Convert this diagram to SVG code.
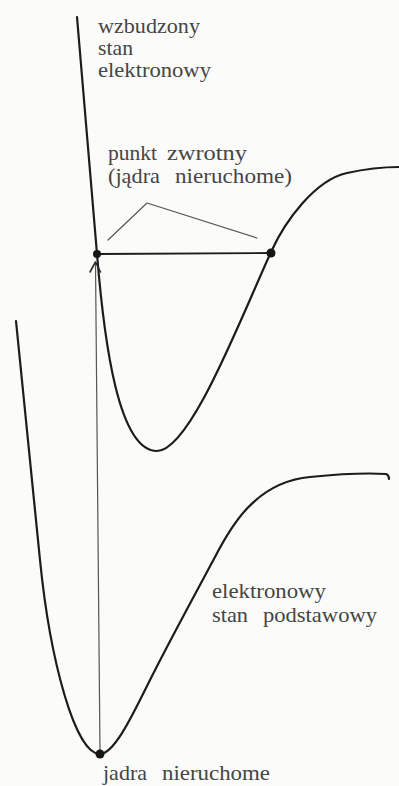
<svg xmlns="http://www.w3.org/2000/svg" width="399" height="786" viewBox="0 0 399 786">
<style>
.curve{fill:none;stroke:#1c1c1c;stroke-width:2.2;stroke-linecap:round;stroke-linejoin:round}
.thin{fill:none;stroke:#555;stroke-width:1.2;stroke-linecap:round;stroke-linejoin:round}
.head{fill:none;stroke:#2a2a2a;stroke-width:1.6;stroke-linecap:round;stroke-linejoin:round}
.dot{fill:#161616}
.lbl{font-family:"Liberation Serif","DejaVu Serif",serif;font-size:21px;fill:#454545}
</style>
<rect width="399" height="786" fill="#fbfbf9"/>
<g id="excited-state">
<path class="curve" d="M77,17 L97,254 C104,340 118,451 157,451 C190,451 240,320 271,252 C285,221 315,180 347,173 C365,169 385,167 399,167"/>
</g>
<g id="ground-state">
<path class="curve" d="M16,321 L40,560 C50,660 75,754 100,754 C115,754 135,710 150,680 C170,640 200,585 215,557 C230,528 255,482 310,477 C340,474 370,473 386,474 Q389,475 389,479"/>
</g>
<g id="connectors">
<line class="curve" x1="97" y1="254" x2="271" y2="253" style="stroke-width:1.8"/>
<line class="thin" x1="100" y1="752" x2="95.5" y2="263"/>
<polyline class="head" points="90,272 95.5,262 100.5,272"/>
<polyline class="thin" points="108,240 147,203 257,238"/>
</g>
<g id="points">
<circle class="dot" cx="97" cy="254" r="4"/>
<circle class="dot" cx="271" cy="253" r="4.5"/>
<circle class="dot" cx="100" cy="754" r="4.5"/>
</g>
<g id="label-excited">
<text class="lbl" x="98" y="33" textLength="102" lengthAdjust="spacingAndGlyphs">wzbudzony</text>
<text class="lbl" x="98" y="55" textLength="35" lengthAdjust="spacingAndGlyphs">stan</text>
<text class="lbl" x="98" y="77" textLength="113" lengthAdjust="spacingAndGlyphs">elektronowy</text>
</g>
<g id="label-turning-point">
<text class="lbl" x="108" y="160" textLength="49" lengthAdjust="spacingAndGlyphs">punkt</text>
<text class="lbl" x="167" y="160" textLength="80" lengthAdjust="spacingAndGlyphs">zwrotny</text>
<text class="lbl" x="108" y="183" textLength="52" lengthAdjust="spacingAndGlyphs">(jądra</text>
<text class="lbl" x="175" y="183" textLength="117" lengthAdjust="spacingAndGlyphs">nieruchome)</text>
</g>
<g id="label-ground">
<text class="lbl" x="212" y="598" textLength="114" lengthAdjust="spacingAndGlyphs">elektronowy</text>
<text class="lbl" x="212" y="622" textLength="36" lengthAdjust="spacingAndGlyphs">stan</text>
<text class="lbl" x="263" y="622" textLength="114" lengthAdjust="spacingAndGlyphs">podstawowy</text>
</g>
<g id="label-bottom">
<text class="lbl" x="103" y="780" textLength="44" lengthAdjust="spacingAndGlyphs">jadra</text>
<text class="lbl" x="162" y="780" textLength="108" lengthAdjust="spacingAndGlyphs">nieruchome</text>
</g>
</svg>
